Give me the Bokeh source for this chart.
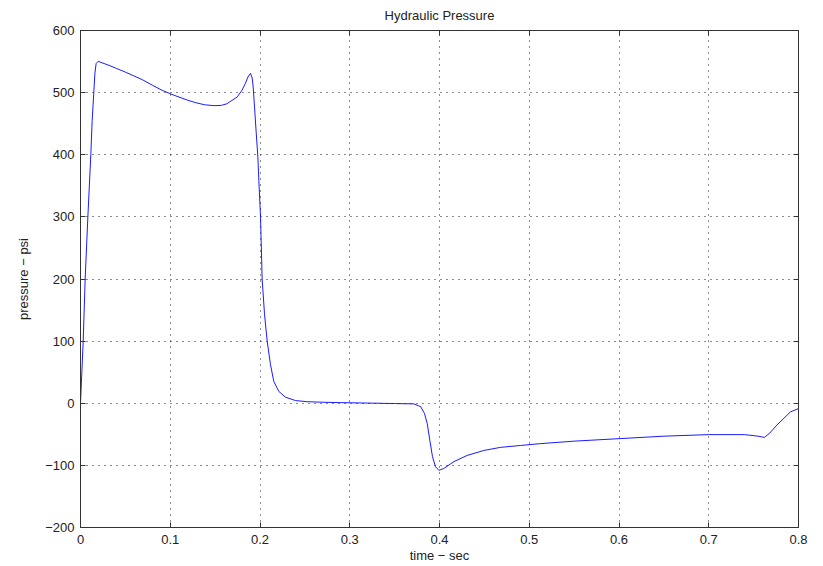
from bokeh.plotting import figure
from bokeh.models import LinearAxis, FixedTicker, Range1d
from bokeh.embed import file_html
from bokeh.resources import INLINE

# Data
time_s = [0.0, 0.0015, 0.003, 0.0052, 0.0082, 0.0115, 0.013, 0.0148, 0.016,
          0.0174, 0.0197, 0.024, 0.0316, 0.04, 0.05, 0.0687, 0.08, 0.091, 0.102,
          0.119, 0.128, 0.138, 0.1486, 0.157, 0.163, 0.1746, 0.18, 0.1838,
          0.1865, 0.1894, 0.1912, 0.1924, 0.1939, 0.1958, 0.1976, 0.1987,
          0.2006, 0.2024, 0.205, 0.208, 0.2117, 0.2154, 0.221, 0.2284,
          0.2396, 0.2526, 0.27, 0.29, 0.32, 0.35, 0.3714, 0.379, 0.3833,
          0.3863, 0.3892, 0.3922, 0.3955, 0.3993, 0.4048, 0.416, 0.4308,
          0.4494, 0.468, 0.49, 0.5125, 0.55, 0.6, 0.65, 0.7, 0.74, 0.755,
          0.762, 0.768, 0.776, 0.791, 0.8]
pressure_psi = [0, 50, 100, 200, 300, 400, 455, 500, 530.6,
                546.7, 550.4, 548, 544, 539, 533, 521, 512, 503.7, 497,
                488, 484, 480.5, 479, 479.5, 482, 493, 504, 515,
                525, 531, 524, 509, 477, 435, 397, 359,
                300, 200, 144, 100, 62, 35, 19, 9.7,
                4.3, 2.5, 1.6, 1, 0.3, -0.5, -1, -5.5, -16.5,
                -32.5, -59.5, -86, -102, -108, -105, -94, -84,
                -76, -71, -68, -65, -61, -57, -53, -50.5, -50.5, -53,
                -55, -48, -35, -14, -8.5]

x_ticks = [0.0, 0.1, 0.2, 0.3, 0.4, 0.5, 0.6, 0.7, 0.8]
x_tick_labels = ["0", "0.1", "0.2", "0.3", "0.4", "0.5", "0.6", "0.7", "0.8"]
y_ticks = [-200, -100, 0, 100, 200, 300, 400, 500, 600]

FONT = "Liberation Sans"
INK = "#222222"

p = figure(width=815, height=566, x_range=Range1d(0, 0.8), y_range=Range1d(-200, 600),
           output_backend="svg", toolbar_location=None, title="Hydraulic Pressure",
           min_border_left=80, min_border_right=17, min_border_top=30, min_border_bottom=39)

p.title.align = "center"
p.title.vertical_align = "top"
p.title.text_font = FONT
p.title.text_font_style = "normal"
p.title.text_font_size = "13px"
p.title.text_color = INK
p.title.offset = 0
p.title.standoff = 12

p.line(time_s, pressure_psi, line_color="#0000ff", line_width=0.9)

p.outline_line_color = "#333333"
p.outline_line_width = 1
p.background_fill_color = "white"
p.border_fill_color = "white"

p.xaxis.ticker = FixedTicker(ticks=x_ticks)
p.xaxis.major_label_overrides = {t: l for t, l in zip(x_ticks, x_tick_labels)}
p.yaxis.ticker = FixedTicker(ticks=y_ticks)

for ax in (p.xaxis[0], p.yaxis[0]):
    ax.major_tick_in = 5
    ax.major_tick_out = 0
    ax.minor_tick_line_color = None
    ax.axis_line_color = "#333333"
    ax.major_tick_line_color = "#333333"
    ax.major_label_text_font = FONT
    ax.major_label_text_font_size = "13px"
    ax.major_label_text_color = INK
    ax.axis_label_text_font = FONT
    ax.axis_label_text_font_size = "13px"
    ax.axis_label_text_font_style = "normal"
    ax.axis_label_text_color = INK

p.xaxis.axis_label = "time \u2212 sec"
p.yaxis.axis_label = "pressure \u2212 psi"
p.xaxis.major_label_standoff = 7
p.xaxis.axis_label_standoff = 1
p.yaxis.major_label_standoff = 6
p.yaxis.axis_label_standoff = 11

# box-style frame with inward ticks on top and right (no labels)
top_ax = LinearAxis(ticker=FixedTicker(ticks=x_ticks),
                    major_label_overrides={t: "" for t in x_ticks})
right_ax = LinearAxis(ticker=FixedTicker(ticks=y_ticks),
                      major_label_overrides={t: "" for t in y_ticks})
for ax in (top_ax, right_ax):
    ax.major_tick_in = 5
    ax.major_tick_out = 0
    ax.minor_tick_line_color = None
    ax.axis_line_color = "#333333"
    ax.major_tick_line_color = "#333333"
    ax.major_label_standoff = 0
p.add_layout(top_ax, "above")
p.add_layout(right_ax, "right")

p.xgrid.ticker = FixedTicker(ticks=x_ticks)
p.ygrid.ticker = FixedTicker(ticks=y_ticks)
for g in (p.xgrid[0], p.ygrid[0]):
    g.grid_line_color = "black"
    g.grid_line_dash = "1 5"
    g.grid_line_width = 1
    g.grid_line_alpha = 0.9

open("out.html", "w").write(file_html(p, INLINE))
